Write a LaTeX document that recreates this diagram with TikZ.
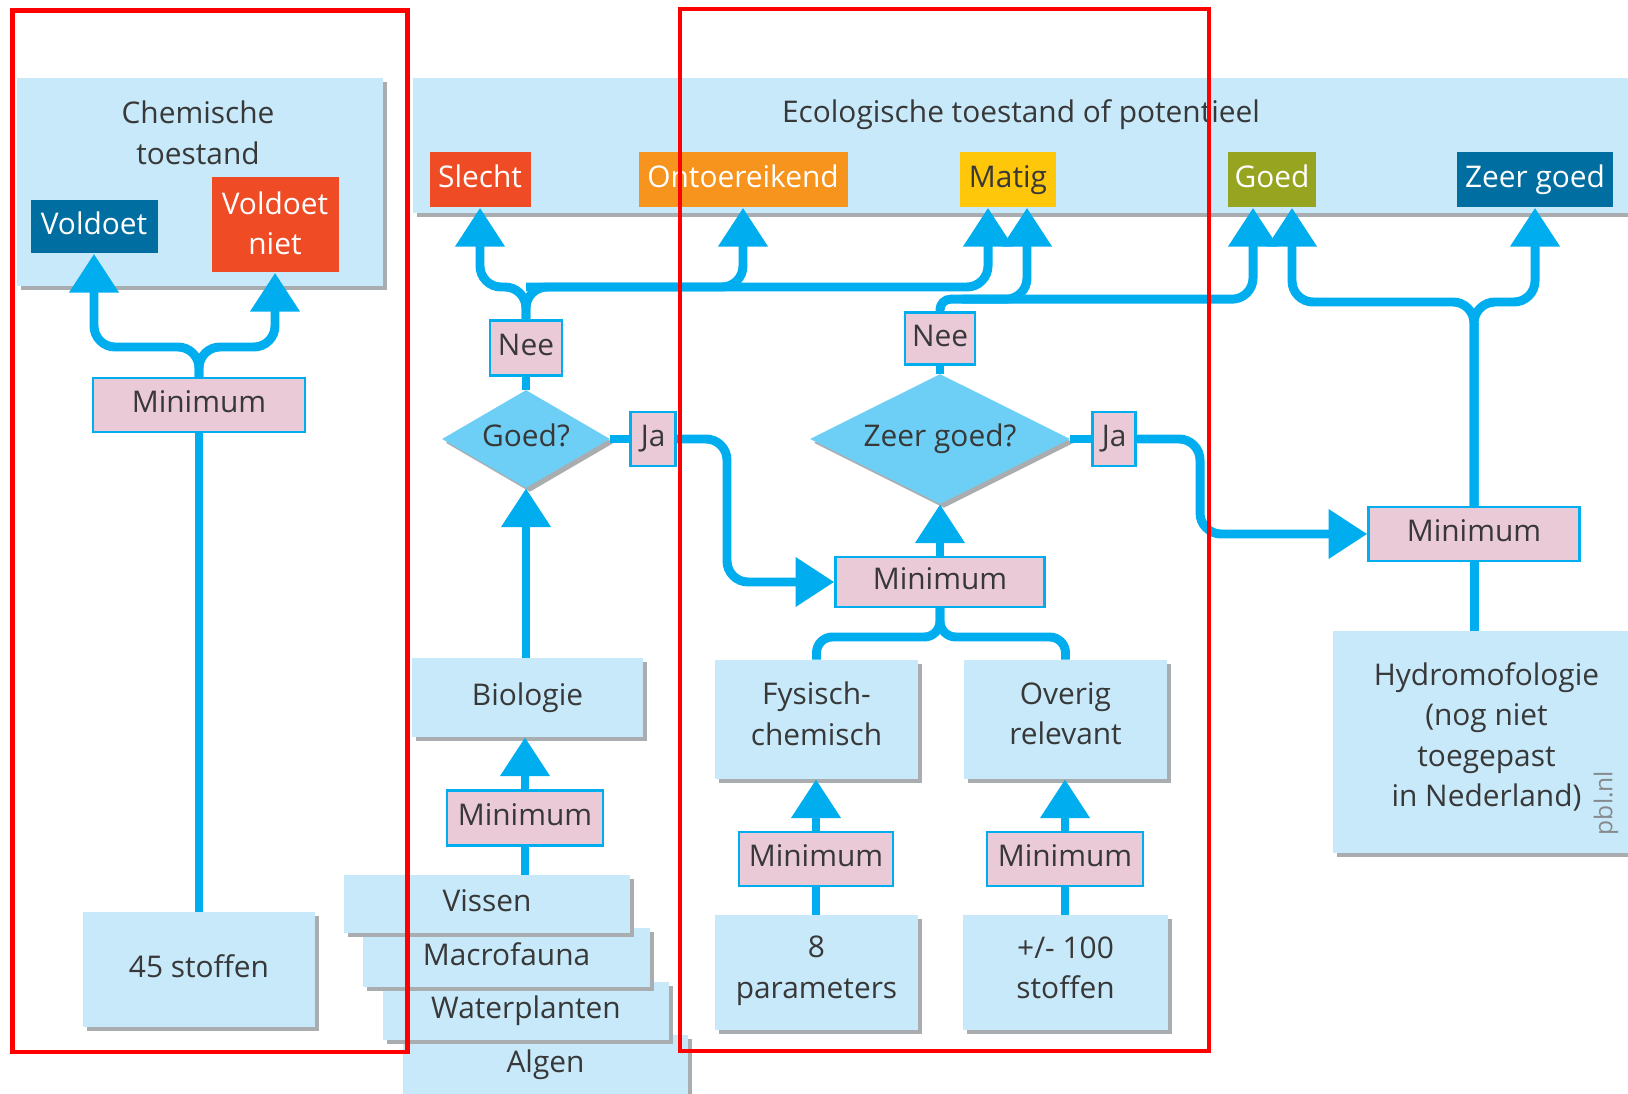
\documentclass[tikz,border=0pt]{standalone}
\usepackage{fontspec}
\setmainfont{Open Sans}
\usepackage{tikz}
\usetikzlibrary{arrows.meta,positioning,shapes.geometric,shadows,calc}
\definecolor{paneel}{HTML}{C7E9FA}
\definecolor{stroom}{HTML}{00AEEF}
\definecolor{ruit}{HTML}{6DCFF6}
\definecolor{roze}{HTML}{EBCAD8}
\definecolor{schaduw}{HTML}{A9ADB0}
\definecolor{inkt}{HTML}{383838}
\definecolor{kSlecht}{HTML}{EF4B24}
\definecolor{kOntoer}{HTML}{F7941D}
\definecolor{kMatig}{HTML}{FFC709}
\definecolor{kGoed}{HTML}{97A41F}
\definecolor{kZeerGoed}{HTML}{006EA0}

\begin{document}
\begin{tikzpicture}[x=0.02cm,y=-0.02cm,font=\fontsize{17}{23}\selectfont,text=inkt,
  sz/.style 2 args={minimum width=#1*0.02cm,minimum height=#2*0.02cm},
  oneline/.style={text height=1.02em,text depth=0.14em},
  vak/.style={fill=paneel,inner sep=0pt,align=center,
    drop shadow={shadow xshift=2.2pt,shadow yshift=-2.2pt,fill=schaduw,opacity=1}},
  mini/.style={fill=roze,draw=stroom,line width=1.4pt,inner sep=0pt,oneline},
  oordeel/.style={text=white,inner sep=0pt,align=center},
  vraag/.style={diamond,fill=ruit,inner sep=0pt,oneline,
    drop shadow={shadow xshift=2.2pt,shadow yshift=-2.2pt,fill=schaduw,opacity=1}},
  lijn/.style={draw=stroom,line width=5.1pt,rounded corners=12pt},
  pijl/.style={lijn,-{Triangle[length=22pt,width=27pt]}},
  kader/.style={draw=red,line width=2.8pt}]
  \useasboundingbox (0,0) rectangle (1628,1094);
  \clip (0,0) rectangle (1628,1094);
  % panels with the final verdicts
  \node[vak,sz={366}{208}](chempaneel) at (200,182){};
  \node[vak,sz={1227}{135}](ecopaneel) at (1026.5,145.5){};
  \node[align=center](chemtitel) at (198,133){Chemische\\toestand};
  \node[oneline](ecotitel) at (1021,114.5){Ecologische toestand of potentieel};
  \node[oordeel,oneline,fill=kZeerGoed,sz={127}{53}](voldoet) at (94,227){Voldoet};
  \node[oordeel,fill=kSlecht,sz={127}{95},text depth=2.3pt](voldoetniet) at (275,225){Voldoet\\niet};
  \node[oordeel,oneline,fill=kSlecht,sz={101}{55}](slecht) at (480,180){Slecht};
  \node[oordeel,oneline,fill=kOntoer,sz={209}{55}](ontoer) at (743,180){Ontoereikend};
  \node[oordeel,oneline,fill=kMatig,text=inkt,sz={96}{55}](matig) at (1008,180){Matig};
  \node[oordeel,oneline,fill=kGoed,sz={88}{55}](goed) at (1272,180){Goed};
  \node[oordeel,oneline,fill=kZeerGoed,sz={156}{55}](zeergoed) at (1535,180){Zeer goed};
  % chemistry column
  \node[mini,sz={212}{54}](min1) at (199,405){Minimum};
  \node[vak,oneline,sz={232}{115}](stoffen45) at (199,969.5){45 stoffen};
  % biology column, stack drawn from the back
  \node[vak,oneline,sz={285}{59}](algen) at (545.5,1064.5){Algen};
  \node[vak,oneline,sz={286}{58}](waterplanten) at (526,1011){Waterplanten};
  \node[vak,oneline,sz={287}{59}](macrofauna) at (506.5,957.5){Macrofauna};
  \node[vak,oneline,sz={286}{58}](vissen) at (487,904){Vissen};
  \node[mini,sz={156}{55}](minbio) at (525,818){Minimum};
  \node[vak,oneline,sz={231}{79}](biologie) at (527.5,697.5){Biologie};
  \node[vraag,aspect=1.71,sz={168}{98}](goedvraag) at (526,439){Goed?};
  \node[mini,sz={72}{55},above=0.26cm of goedvraag](nee1){Nee};
  \node[mini,sz={45}{54},right=0.38cm of goedvraag](ja1){Ja};
  % supporting elements
  \node[vak,sz={203}{115},text depth=6.2pt](param8) at (816.5,972.5){8\\parameters};
  \node[vak,sz={205}{115},text depth=5.7pt](stoffen100) at (1065.5,972.5){+/- 100\\stoffen};
  \node[mini,sz={154}{54}](minfys) at (816,859){Minimum};
  \node[mini,sz={156}{54}](minoverig) at (1065,859){Minimum};
  \node[vak,sz={203}{119},text depth=6.8pt](fysisch) at (816.5,719.5){Fysisch-\\chemisch};
  \node[vak,sz={203}{119},text depth=6.8pt](overig) at (1065.5,719.5){Overig\\relevant};
  \node[mini,sz={209}{50}](min2) at (940,582){Minimum};
  \node[vraag,aspect=2,sz={260}{130}](zeergoedvraag) at (940,439){Zeer goed?};
  \node[mini,sz={70}{52},above=0.16cm of zeergoedvraag](nee2){Nee};
  \node[mini,sz={43}{54},right=0.42cm of zeergoedvraag](ja2){Ja};
  % hydromorphology
  \node[mini,sz={211}{54}](min3) at (1474,534){Minimum};
  \node[vak,sz={307}{222},text depth=8.3pt](hydro) at (1486.5,742){Hydromofologie\\(nog niet\\toegepast\\in Nederland)};
  \node[rotate=90,text=schaduw!80!black,font=\fontsize{14}{16}\selectfont](pbl) at (1606,803){pbl.nl};
  % rows and columns of the bends
  \coordinate (rijA) at (0,347);
  \coordinate (rijB) at (0,287);
  \coordinate (rijC) at (0,302);
  \coordinate (rijD) at (0,637);
  \coordinate (kolA) at (727,0);
  \coordinate (kolB) at (1200,0);
  \coordinate (matigL) at ([xshift=-0.4cm]matig.south);
  \coordinate (matigR) at ([xshift=0.38cm]matig.south);
  \coordinate (goedL) at ([xshift=-0.38cm]goed.south);
  \coordinate (goedR) at ([xshift=0.4cm]goed.south);
  \coordinate (nee2bocht) at ($(nee2.north)+(22,-12)$);
  % chemistry
  \draw[pijl](min1.north)--(min1.north |- rijA)--(voldoet.south |- rijA)--(voldoet.south);
  \draw[pijl](min1.north)--(min1.north |- rijA)--(voldoetniet.south |- rijA)--(voldoetniet.south);
  \draw[lijn](min1.south)--(stoffen45.north);
  % biology
  \draw[lijn](vissen.north -| minbio.south)--(minbio.south);
  \draw[pijl](minbio.north)--(minbio.north |- biologie.south);
  \draw[pijl](biologie.north -| goedvraag.south)--(goedvraag.south);
  \draw[lijn](goedvraag.north)--(nee1.south);
  \draw[lijn](goedvraag.east)--(ja1.west);
  \draw[pijl](nee1.north)--(nee1.north |- rijB)--(slecht.south |- rijB)--(slecht.south);
  \draw[pijl](nee1.north)--(nee1.north |- rijB)--(matigL |- rijB)--(matigL);
  \draw[pijl](nee1.north |- rijB)--(ontoer.south |- rijB)--(ontoer.south);
  \draw[pijl](ja1.east)--(ja1.east -| kolA)--(kolA |- min2.west)--(min2.west);
  % supporting elements
  \draw[lijn](minfys.south |- param8.north)--(minfys.south);
  \draw[lijn](minoverig.south |- stoffen100.north)--(minoverig.south);
  \draw[pijl](minfys.north)--(minfys.north |- fysisch.south);
  \draw[pijl](minoverig.north)--(minoverig.north |- overig.south);
  \draw[lijn,rounded corners=9pt](min2.south)--(min2.south |- rijD)--(fysisch.north |- rijD)--(fysisch.north);
  \draw[lijn,rounded corners=9pt](min2.south)--(min2.south |- rijD)--(overig.north |- rijD)--(overig.north);
  \draw[pijl](min2.north)--(zeergoedvraag.south);
  \draw[lijn](zeergoedvraag.north)--(nee2.south);
  \draw[lijn](zeergoedvraag.east)--(ja2.west);
  \draw[lijn,rounded corners=6pt](nee2.north)--(nee2.north |- nee2bocht)--(nee2bocht);
  \draw[pijl](nee2bocht)--(goedL |- nee2bocht)--(goedL);
  \draw[pijl](nee2bocht)--(matigR |- nee2bocht)--(matigR);
  \draw[pijl](ja2.east)--(ja2.east -| kolB)--(kolB |- min3.west)--(min3.west);
  % hydromorphology
  \draw[pijl](min3.north)--(min3.north |- rijC)--(goedR |- rijC)--(goedR);
  \draw[pijl](min3.north)--(min3.north |- rijC)--(zeergoed.south |- rijC)--(zeergoed.south);
  \draw[lijn](min3.south)--(min3.south |- hydro.north);
  % red frames on top
  \draw[kader](12.5,10.5) rectangle (407.5,1052);
  \draw[kader](680,9) rectangle (1209,1051);
\end{tikzpicture}
\end{document}
